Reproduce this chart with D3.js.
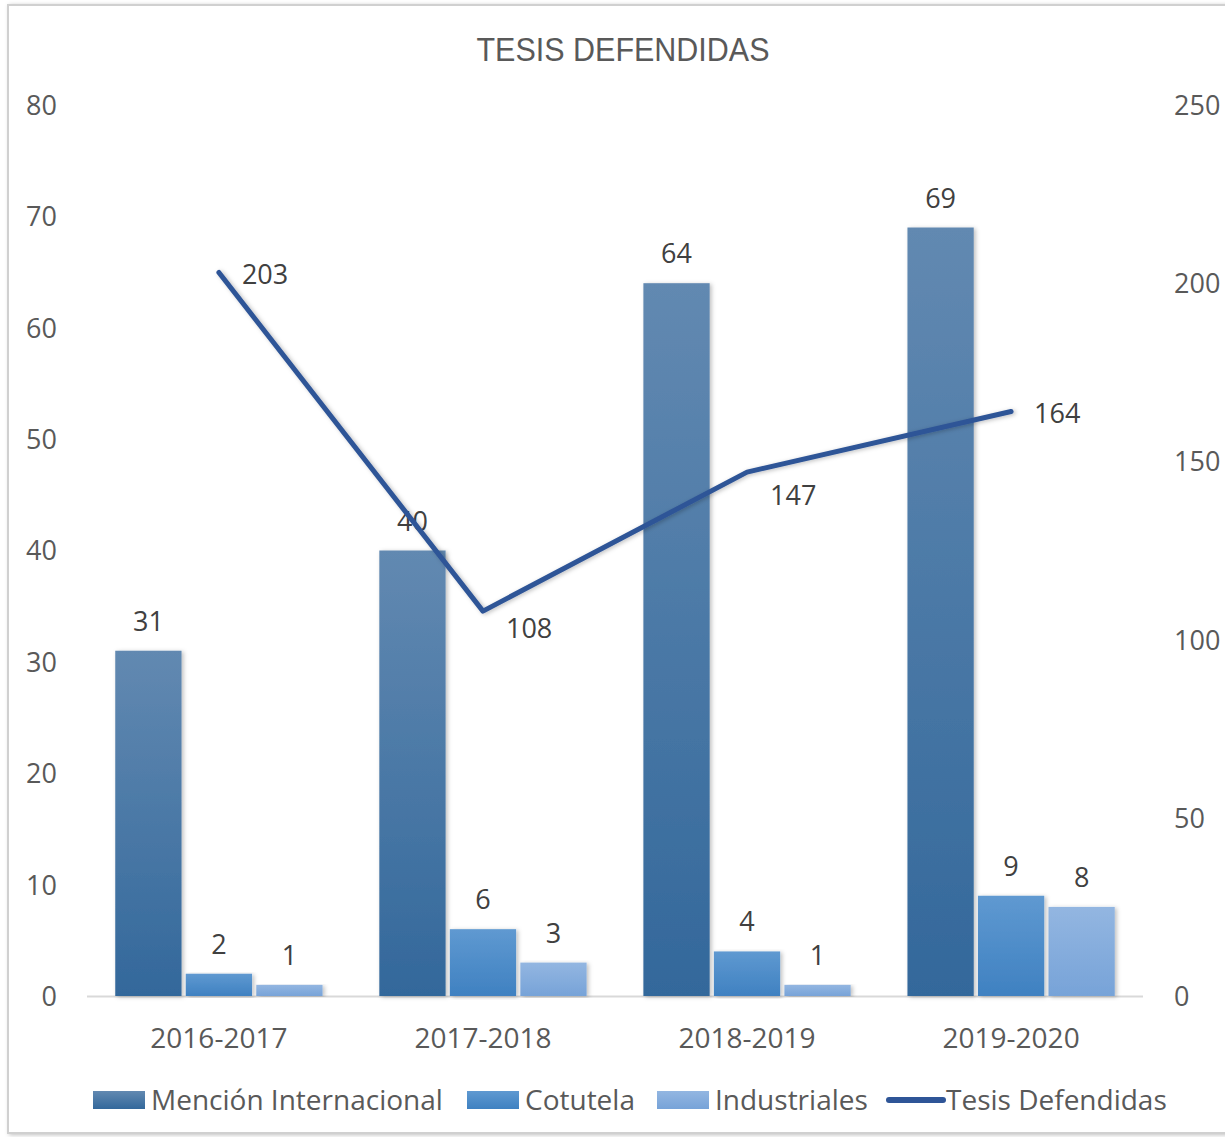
<!DOCTYPE html>
<html>
<head>
<meta charset="utf-8">
<script src="https://cdn.jsdelivr.net/npm/d3@7"></script>
<style>
  body { margin: 0; background: #fff; }
  text { font-family: "Open Sans", "DejaVu Sans", sans-serif; }
</style>
</head>
<body>
<svg width="1225" height="1137"></svg>
<script>
// data
const years = ["2016-2017", "2017-2018", "2018-2019", "2019-2020"];
const mencion = [31, 40, 64, 69];
const cotutela = [2, 6, 4, 9];
const industriales = [1, 3, 1, 8];
const tesis = [203, 108, 147, 164];
const leftTicks = [0, 10, 20, 30, 40, 50, 60, 70, 80];
const rightTicks = [0, 50, 100, 150, 200, 250];

const barSeries = [
  { name: "Mención Internacional", values: mencion, top: "#6289b1", bottom: "#33689b" },
  { name: "Cotutela", values: cotutela, top: "#5f99d1", bottom: "#3f81c1" },
  { name: "Industriales", values: industriales, top: "#93b6e1", bottom: "#77a3d8" }
];

let svg = d3.select("svg");
const fs = 27;

// frame with a soft shadow
let defs = svg.append("defs");
let sh = defs.append("filter").attr("id", "shadow").attr("x", "-20%").attr("y", "-5%").attr("width", "140%").attr("height", "110%");
sh.append("feDropShadow").attr("dx", 2).attr("dy", 1).attr("stdDeviation", 2).attr("flood-color", "#000").attr("flood-opacity", 0.25);

svg.append("rect")
  .attr("x", 8).attr("y", 5).attr("width", 1225).attr("height", 1128)
  .attr("fill", "#fff").attr("stroke", "#d0d0d0").attr("stroke-width", 2)
  .style("filter", "url(#shadow)");

barSeries.forEach((s, i) => {
  let g = defs.append("linearGradient").attr("id", "grad" + i)
    .attr("x1", 0).attr("y1", 0).attr("x2", 0).attr("y2", 1);
  g.append("stop").attr("offset", "0%").attr("stop-color", s.top);
  g.append("stop").attr("offset", "100%").attr("stop-color", s.bottom);
});

const plotLeft = 87, plotRight = 1143, plotTop = 105, plotBottom = 996;

let x0 = d3.scaleBand().domain(years).range([plotLeft, plotRight]).paddingInner(0.215).paddingOuter(0.107);
let x1 = d3.scaleBand().domain(d3.range(barSeries.length)).range([0, x0.bandwidth()]).paddingInner(0.06);
let yL = d3.scaleLinear().domain([0, 80]).range([plotBottom, plotTop]);
let yR = d3.scaleLinear().domain([0, 250]).range([plotBottom, plotTop]);

// title
svg.append("text")
  .attr("x", 623).attr("y", 61)
  .attr("text-anchor", "middle")
  .attr("font-size", 34)
  .attr("fill", "#595959")
  .attr("textLength", 293)
  .attr("lengthAdjust", "spacingAndGlyphs")
  .style("font-family", "'Liberation Sans Narrow', 'Liberation Sans', sans-serif")
  .text("TESIS DEFENDIDAS");

// left axis
let leftAxis = svg.append("g")
  .attr("transform", `translate(${plotLeft - 30},0)`)
  .call(d3.axisLeft(yL).tickValues(leftTicks).tickSize(0).tickPadding(0));
leftAxis.select(".domain").remove();
leftAxis.selectAll("text").attr("font-size", fs).attr("fill", "#595959").attr("dy", "0.35em");

// right axis
let rightAxis = svg.append("g")
  .attr("transform", `translate(${plotRight + 31},0)`)
  .call(d3.axisRight(yR).tickValues(rightTicks).tickSize(0).tickPadding(0));
rightAxis.select(".domain").remove();
rightAxis.selectAll("text").attr("font-size", fs).attr("fill", "#595959").attr("dy", "0.35em");

// baseline
svg.append("line")
  .attr("x1", plotLeft).attr("x2", plotRight)
  .attr("y1", plotBottom + 0.5).attr("y2", plotBottom + 0.5)
  .attr("stroke", "#d9d9d9").attr("stroke-width", 2);

// bars
let groups = svg.append("g").selectAll("g")
  .data(years).enter().append("g")
  .attr("transform", d => `translate(${x0(d)},0)`);

barSeries.forEach((s, i) => {
  groups.append("rect")
    .attr("x", x1(i))
    .attr("y", (d, j) => yL(s.values[j]))
    .attr("width", x1.bandwidth())
    .attr("height", (d, j) => plotBottom - yL(s.values[j]))
    .attr("fill", `url(#grad${i})`)
    .style("filter", "url(#shadow)");
});

// bar labels
barSeries.forEach((s, i) => {
  groups.append("text")
    .attr("x", x1(i) + x1.bandwidth() / 2)
    .attr("y", (d, j) => yL(s.values[j]) - 20)
    .attr("text-anchor", "middle")
    .attr("font-size", fs)
    .attr("fill", "#404040")
    .text((d, j) => s.values[j]);
});

// x axis labels
svg.append("g").selectAll("text")
  .data(years).enter().append("text")
  .attr("x", d => x0(d) + x0.bandwidth() / 2)
  .attr("y", 1048)
  .attr("text-anchor", "middle")
  .attr("font-size", fs + 1)
  .attr("fill", "#595959")
  .text(d => d);

// line
let cx = d => x0(d) + x0.bandwidth() / 2;
let line = d3.line().x((d, i) => cx(years[i])).y(d => yR(d));
svg.append("path")
  .datum(tesis)
  .attr("d", line)
  .attr("fill", "none")
  .attr("stroke", "#2f5597")
  .attr("stroke-width", 5)
  .attr("stroke-linecap", "round")
  .attr("stroke-linejoin", "round")
  .style("filter", "url(#shadow)");

// line labels: offsets as in the original
const lineLabelOffsets = [[23, 11], [23, 27], [23, 33], [23, 11]];
svg.append("g").selectAll("text")
  .data(tesis).enter().append("text")
  .attr("x", (d, i) => cx(years[i]) + lineLabelOffsets[i][0])
  .attr("y", (d, i) => yR(d) + lineLabelOffsets[i][1])
  .attr("font-size", fs)
  .attr("fill", "#404040")
  .text(d => d);

// legend
const legendItems = [
  { name: barSeries[0].name, type: "bar", i: 0, x: 93 },
  { name: barSeries[1].name, type: "bar", i: 1, x: 467 },
  { name: barSeries[2].name, type: "bar", i: 2, x: 657 },
  { name: "Tesis Defendidas", type: "line", x: 887 }
];
let legend = svg.append("g").selectAll("g")
  .data(legendItems).enter().append("g")
  .attr("transform", d => `translate(${d.x},1091)`);
legend.filter(d => d.type === "bar").append("rect")
  .attr("width", 52).attr("height", 18)
  .attr("fill", d => `url(#grad${d.i})`);
legend.filter(d => d.type === "line").append("line")
  .attr("x1", 2).attr("x2", 56).attr("y1", 9).attr("y2", 9)
  .attr("stroke", "#2f5597").attr("stroke-width", 6).attr("stroke-linecap", "round");
legend.append("text")
  .attr("x", d => d.type === "line" ? 59 : 58)
  .attr("y", 19)
  .attr("font-size", fs + 1)
  .attr("fill", "#595959")
  .text(d => d.name);
</script>
</body>
</html>
